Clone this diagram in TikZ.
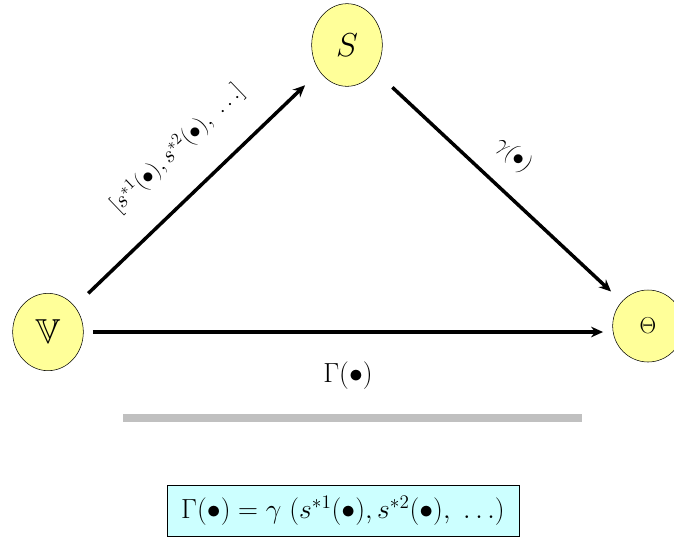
\documentclass[tikz,border=0pt]{standalone}
\usepackage{amsmath}
\usepackage{amssymb}
\usetikzlibrary{arrows.meta,shapes.geometric}
\definecolor{nodeYellow}{HTML}{FFFF99}
\definecolor{boxCyan}{HTML}{CCFFFF}
\definecolor{barGray}{HTML}{C0C0C0}

\begin{document}
\begin{tikzpicture}[x=0.75pt,y=-0.75pt,
  stateNode/.style={ellipse,draw=black,fill=nodeYellow,inner sep=0pt,
    minimum width=53pt,minimum height=60pt},
  mapArrow/.style={line width=2.6pt,-{Stealth[length=9pt,width=8pt]}},
  mapLabel/.style={font=\fontsize{17}{20}\selectfont,inner sep=1pt}]
\useasboundingbox (0,0) rectangle (674,544);
% durumlar
\node[stateNode,minimum height=62pt] (S) at (347,45) {\fontsize{26}{30}\selectfont $S$};
\node[stateNode,minimum height=58pt] (V) at (48,332) {\fontsize{26}{30}\selectfont $\mathbb{V}$};
\node[stateNode,minimum height=54pt] (Th) at (648,326) {\fontsize{16}{18}\selectfont $\Theta$};
% oklar
\draw[mapArrow,shorten <=14pt,shorten >=15pt] (V) -- (S)
  node[mapLabel,pos=0.54,sloped,above=21pt]
  {$[s^{*1}(\bullet),s^{*2}(\bullet),\ \ldots]$};
\draw[mapArrow,shorten <=18pt,shorten >=11pt] (S) -- (Th)
  node[mapLabel,pos=0.47,sloped,above=14pt] {$\gamma(\bullet)$};
\draw[mapArrow,shorten <=7pt,shorten >=7pt] (V.east) -- (V.east -| Th.west)
  node[midway,below=18pt,font=\fontsize{22}{26}\selectfont] (G) {$\Gamma(\bullet)$};
% ayirici cizgi
\coordinate (barL) at (123,418);
\coordinate (barR) at (582,418);
\draw[barGray,line width=6pt] (barL) -- (barR);
% tanim kutusu
\node[draw=black,fill=boxCyan,minimum width=264pt,minimum height=38pt,
  font=\fontsize{20}{24}\selectfont] (defBox) at (343,511)
  {$\Gamma(\bullet) = \gamma\ (s^{*1}(\bullet),s^{*2}(\bullet),\ \ldots)$};
\end{tikzpicture}
\end{document}
